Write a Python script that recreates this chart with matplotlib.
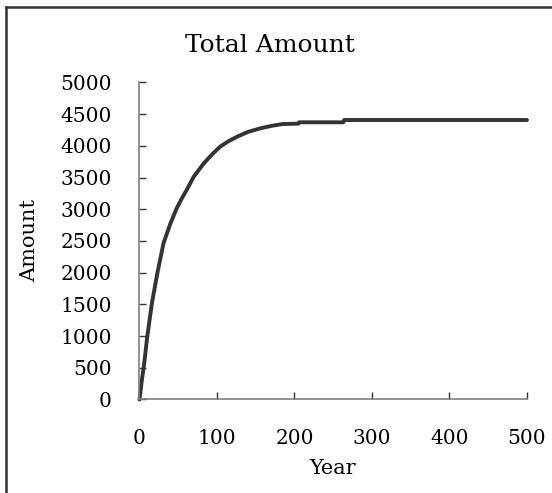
import matplotlib.pyplot as plt
from matplotlib.lines import Line2D

# values
years = [0, 3, 6, 10, 16, 23, 31, 40, 48, 55, 62, 70, 83, 94, 104, 115, 126, 140,
         156, 170, 185, 205, 206, 263, 264, 500]
amount = [0, 300, 560, 990, 1517, 1990, 2464, 2779, 3016, 3180, 3330, 3514, 3725,
          3870, 3987, 4075, 4145, 4220, 4277, 4315, 4345, 4350, 4372, 4372, 4408, 4408]
x_ticks = [0, 100, 200, 300, 400, 500]
y_ticks = [0, 500, 1000, 1500, 2000, 2500, 3000, 3500, 4000, 4500, 5000]

plt.rcParams['font.family'] = ['DejaVu Serif']

fig = plt.figure(figsize=(5.52, 4.93), dpi=100)
ax = fig.add_axes([0.2527, 0.1897, 0.702, 0.643])

ax.plot(years, amount, color='#333333', lw=2.8, solid_capstyle='round', clip_on=False)

ax.set_xlim(0, 500)
ax.set_ylim(0, 5000)
ax.set_xticks(x_ticks)
ax.set_yticks(y_ticks)
for s in ['top', 'right']:
    ax.spines[s].set_visible(False)
for s in ['left', 'bottom']:
    ax.spines[s].set_color('#7f7f7f')
    ax.spines[s].set_linewidth(1.2)
ax.tick_params(axis='both', direction='in', length=5, width=1, color='#333333',
               labelsize=14.5, labelcolor='black')
ax.tick_params(axis='y', pad=20)
ax.tick_params(axis='x', pad=21)

fig.text(270 / 552, 1 - 45 / 493, 'Total Amount', ha='center', va='center', fontsize=18)
fig.text(333 / 552, 1 - 468 / 493, 'Year', ha='center', va='center', fontsize=15)
fig.text(30 / 552, 1 - 241 / 493, 'Amount', ha='center', va='center', fontsize=15,
         rotation=90)

# chart border (only left and top are visible in the crop)
fig.add_artist(Line2D([6 / 552, 6 / 552], [0, 1 - 7 / 493], color='#333333', lw=1.8))
fig.add_artist(Line2D([6 / 552, 1], [1 - 7 / 493, 1 - 7 / 493], color='#333333', lw=1.8))

fig.savefig('out.png', dpi=100)
